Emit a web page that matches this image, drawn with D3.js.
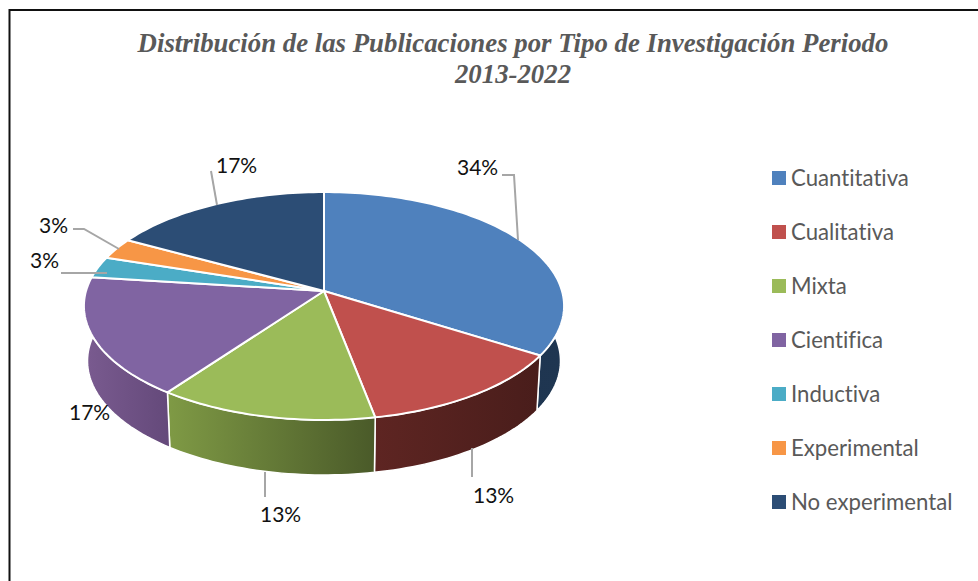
<!DOCTYPE html>
<html>
<head>
<meta charset="utf-8">
<script src="https://cdn.jsdelivr.net/npm/d3@7"></script>
<style>
  html, body { margin: 0; padding: 0; background: #fff; overflow: hidden; }
  svg { display: block; }
</style>
</head>
<body>
<div id="pie-container"></div>
<script>
// Chart data
const categories = ['Cuantitativa', 'Cualitativa', 'Mixta', 'Cientifica', 'Inductiva', 'Experimental', 'No experimental'];
const percentages = [34, 13, 13, 17, 3, 3, 17];
const titleLines = ['Distribución de las Publicaciones por Tipo de Investigación Periodo', '2013-2022'];

// Slice colors: top face, then side wall gradient (left to right)
const topColors = ['#4f81bd', '#c0504d', '#9bbb59', '#8064a2', '#4bacc6', '#f79646', '#2c4d75'];
const wallStart = ['#1c324e', '#5e2522', '#7f9a45', '#7a5b90', '#2f7386', '#a5622a', '#1c324e'];
const wallEnd = ['#1f3651', '#491d1b', '#4a5a29', '#64497a', '#2f7386', '#a5622a', '#1c324e'];

// Label placement, same order as the slices: text start x, baseline y, leader points
const labelLayout = [
  { x: 457, y: 175, leader: [[502, 175], [514, 175], [518, 240]] },
  { x: 473, y: 503, leader: [[472, 448], [472, 477]] },
  { x: 260, y: 522, leader: [[265, 472], [265, 497]] },
  { x: 69, y: 420, leader: [] },
  { x: 30, y: 268, leader: [[61, 273], [107, 273]] },
  { x: 39, y: 233, leader: [[73, 229], [84, 229], [119, 249]] },
  { x: 216, y: 173, leader: [[211, 171], [217, 205]] },
];

const width = 978;
const height = 581;

// Pie plane, seen tilted and with a little perspective
const apex = { x: 324, y: 291 };
const radiusX = 238;
const radiusY = 112;
const perspective = 0.1316;
const depth = 55;
const bottomScale = 0.985;

// Project a pie angle (clockwise from the top) on the tilted plane
const project = (angle, scaleX = 1, shiftY = 0) => {
  const u = Math.sin(angle);
  const v = -Math.cos(angle);
  const w = 1 - perspective * v;
  return [apex.x + scaleX * radiusX * u / w, apex.y + shiftY + radiusY * v / w];
};

const svg = d3.select('#pie-container')
  .append('svg')
  .attr('width', width)
  .attr('height', height);

// Frame, only the top and left edges are in the picture
svg.append('rect')
  .attr('x', 9.5)
  .attr('y', 10)
  .attr('width', 1000)
  .attr('height', 600)
  .attr('fill', '#fff')
  .attr('stroke', '#111')
  .attr('stroke-width', 2);

// Title
svg.append('g')
  .attr('font-family', '"Liberation Serif", serif')
  .attr('font-weight', 'bold')
  .attr('font-style', 'italic')
  .attr('font-size', 26.8)
  .attr('fill', '#595959')
  .attr('text-anchor', 'middle')
  .selectAll('text')
  .data(titleLines)
  .join('text')
  .attr('x', 513)
  .attr('y', (d, i) => 52 + i * 31)
  .text(d => d);

// Slices
const pie = d3.pie().sort(null).value(d => d);
const slices = pie(percentages);
const line = d3.line();

// Sample the rim of a slice
const rim = (d, scaleX, shiftY) => {
  const steps = Math.max(2, Math.ceil((d.endAngle - d.startAngle) * 40));
  return d3.range(steps + 1).map(i => {
    const angle = d.startAngle + (d.endAngle - d.startAngle) * i / steps;
    return project(angle, scaleX, shiftY);
  });
};

// Side wall gradients
const defs = svg.append('defs');
const gradients = defs.selectAll('linearGradient')
  .data(slices)
  .join('linearGradient')
  .attr('id', (d, i) => `wall-${i}`)
  .attr('gradientUnits', 'objectBoundingBox');
gradients.append('stop').attr('offset', 0).attr('stop-color', (d, i) => wallStart[i]);
gradients.append('stop').attr('offset', 1).attr('stop-color', (d, i) => wallEnd[i]);

// Walls go first, the top faces then cover the back ones
svg.append('g')
  .selectAll('path')
  .data(slices)
  .join('path')
  .attr('d', d => line(rim(d, 1, 0).concat(rim(d, bottomScale, depth).reverse())) + 'Z')
  .attr('fill', (d, i) => `url(#wall-${i})`)
  .attr('stroke', '#fff')
  .attr('stroke-width', 1.5)
  .attr('stroke-linejoin', 'round');

// Top faces
svg.append('g')
  .selectAll('path')
  .data(slices)
  .join('path')
  .attr('d', d => line([[apex.x, apex.y]].concat(rim(d, 1, 0))) + 'Z')
  .attr('fill', (d, i) => topColors[i])
  .attr('stroke', '#fff')
  .attr('stroke-width', 2)
  .attr('stroke-linejoin', 'round');

// Leader lines
svg.append('g')
  .selectAll('path')
  .data(labelLayout.filter(d => d.leader.length))
  .join('path')
  .attr('d', d => line(d.leader))
  .attr('fill', 'none')
  .attr('stroke', '#a6a6a6')
  .attr('stroke-width', 2);

// Percent labels
svg.append('g')
  .attr('font-family', 'Lato, sans-serif')
  .attr('font-size', 21)
  .attr('fill', '#111')
  .selectAll('text')
  .data(percentages)
  .join('text')
  .attr('x', (d, i) => labelLayout[i].x)
  .attr('y', (d, i) => labelLayout[i].y)
  .text(d => `${d}%`);

// Legend
const legendY = d3.scalePoint().domain(categories).range([171, 495]);
const legend = svg.append('g')
  .selectAll('g')
  .data(categories)
  .join('g')
  .attr('transform', d => `translate(772,${legendY(d)})`);

legend.append('rect')
  .attr('width', 14)
  .attr('height', 14)
  .attr('fill', (d, i) => topColors[i]);

legend.append('text')
  .attr('x', 19)
  .attr('y', 15)
  .attr('font-family', 'Lato, sans-serif')
  .attr('font-size', 22.2)
  .attr('fill', '#595959')
  .style('font-variant-ligatures', 'none')
  .text(d => d);
</script>
</body>
</html>
